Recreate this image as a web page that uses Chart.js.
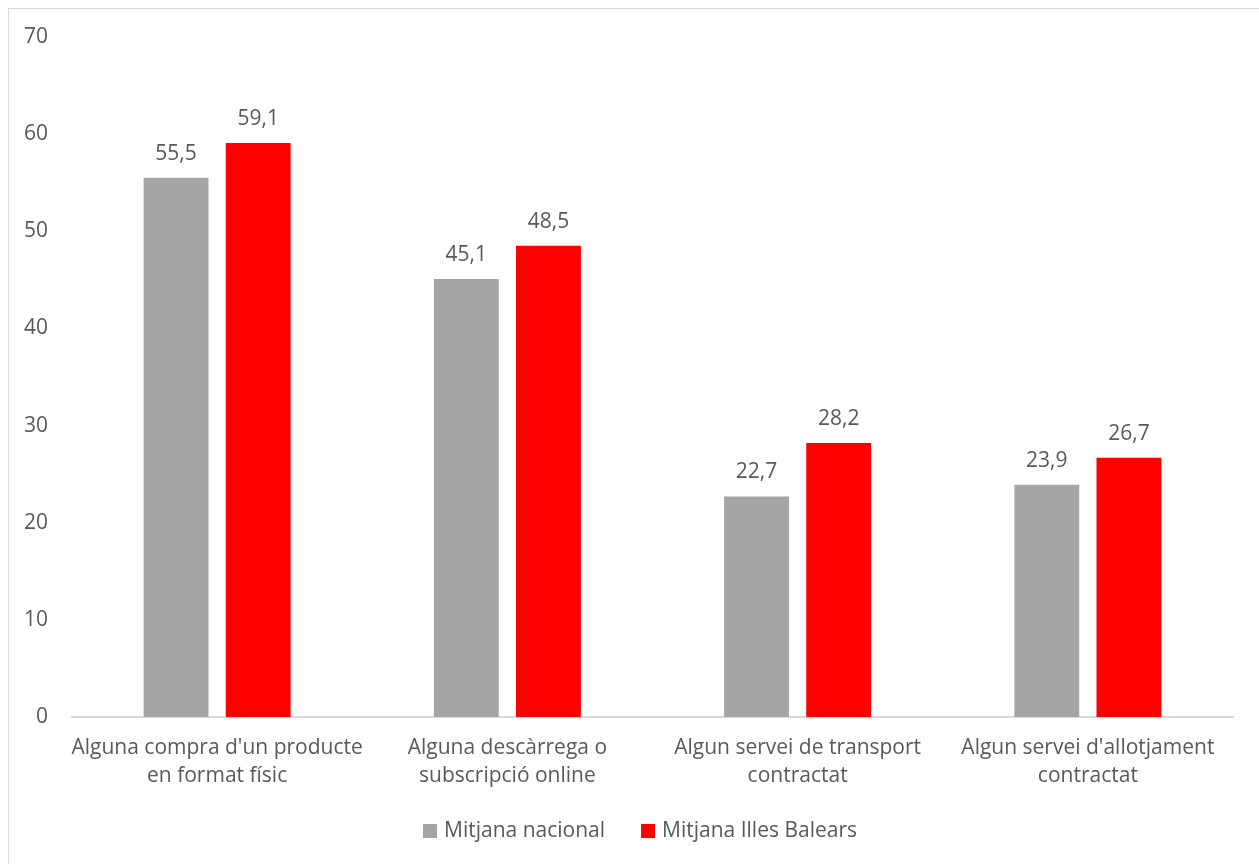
<!DOCTYPE html>
<html>
<head>
<meta charset="utf-8">
<script src="https://cdn.jsdelivr.net/npm/chart.js@4.4.0/dist/chart.umd.min.js"></script>
<style>
    html, body { margin: 0; padding: 0; background: #fff; }
    #wrap { position: relative; width: 1259px; height: 864px; }
    #frame {
        position: absolute; left: 8px; top: 8px; width: 1260px; height: 870px;
        border: 1px solid #d9d9d9; box-sizing: border-box; pointer-events: none;
    }
</style>
</head>
<body>
<div id="wrap">
    <canvas id="chart" width="1259" height="864"></canvas>
    <div id="frame"></div>
</div>
<script>
const categories = [
    ["Alguna compra d'un producte", "en format físic"],
    ["Alguna descàrrega o", "subscripció online"],
    ["Algun servei de transport", "contractat"],
    ["Algun servei d'allotjament", "contractat"],
];
const nacional = [55.5, 45.1, 22.7, 23.9];
const balears = [59.1, 48.5, 28.2, 26.7];
const seriesNames = ["Mitjana nacional", "Mitjana Illes Balears"];
const seriesColors = ["#a5a5a5", "#ff0000"];

const FONT = "'Open Sans', sans-serif";
const FONT_SIZE = 21;
const TEXT = "#595959";

// etiquetes de valor damunt de cada barra
const valueLabels = {
    id: "valueLabels",
    afterDatasetsDraw(chart) {
        const ctx = chart.ctx;
        ctx.save();
        ctx.font = FONT_SIZE + "px " + FONT;
        ctx.fillStyle = TEXT;
        ctx.textAlign = "center";
        ctx.textBaseline = "middle";
        chart.data.datasets.forEach((ds, i) => {
            chart.getDatasetMeta(i).data.forEach((bar, j) => {
                const txt = ds.data[j].toFixed(1).replace(".", ",");
                ctx.fillText(txt, bar.x, bar.y - 24);
            });
        });
        ctx.restore();
    },
};

// llegenda a sota, centrada com a l'original
const bottomLegend = {
    id: "bottomLegend",
    afterDraw(chart) {
        const ctx = chart.ctx;
        ctx.save();
        ctx.font = FONT_SIZE + "px " + FONT;
        ctx.textBaseline = "middle";
        ctx.textAlign = "left";
        const box = 14, gap = 7, between = 36;
        const widths = seriesNames.map((n) => box + gap + ctx.measureText(n).width);
        const total = widths.reduce((a, b) => a + b, 0) + between;
        let x = 640 - total / 2;
        const y = 831;
        seriesNames.forEach((name, i) => {
            ctx.fillStyle = seriesColors[i];
            ctx.fillRect(x, y - box / 2, box, box);
            ctx.fillStyle = TEXT;
            ctx.fillText(name, x + box + gap, y);
            x += widths[i] + between;
        });
        ctx.restore();
    },
};

new Chart(document.getElementById("chart"), {
    type: "bar",
    data: {
        labels: categories,
        datasets: [
            {
                label: seriesNames[0],
                data: nacional,
                backgroundColor: seriesColors[0],
                categoryPercentage: 0.566,
                barPercentage: 0.79,
            },
            {
                label: seriesNames[1],
                data: balears,
                backgroundColor: seriesColors[1],
                categoryPercentage: 0.566,
                barPercentage: 0.79,
            },
        ],
    },
    options: {
        responsive: false,
        animation: false,
        layout: { padding: { left: 0, right: 26, top: 37, bottom: 57 } },
        plugins: {
            tooltip: { enabled: false },
            legend: { display: false },
        },
        scales: {
            x: {
                grid: { display: false, drawTicks: false },
                border: { display: true, color: "#d9d9d9", width: 2 },
                ticks: {
                    color: TEXT,
                    font: { family: FONT, size: FONT_SIZE, lineHeight: 1.33 },
                    padding: 17,
                    maxRotation: 0,
                    autoSkip: false,
                },
                afterFit: (scale) => { scale.height = 90; },
            },
            y: {
                min: 0,
                max: 70,
                grid: { display: false, drawTicks: false },
                border: { display: false },
                ticks: {
                    stepSize: 10,
                    color: TEXT,
                    font: { family: FONT, size: FONT_SIZE },
                    padding: 24,
                },
                afterFit: (scale) => { scale.width = 72; },
            },
        },
    },
    plugins: [valueLabels, bottomLegend],
});
</script>
</body>
</html>
